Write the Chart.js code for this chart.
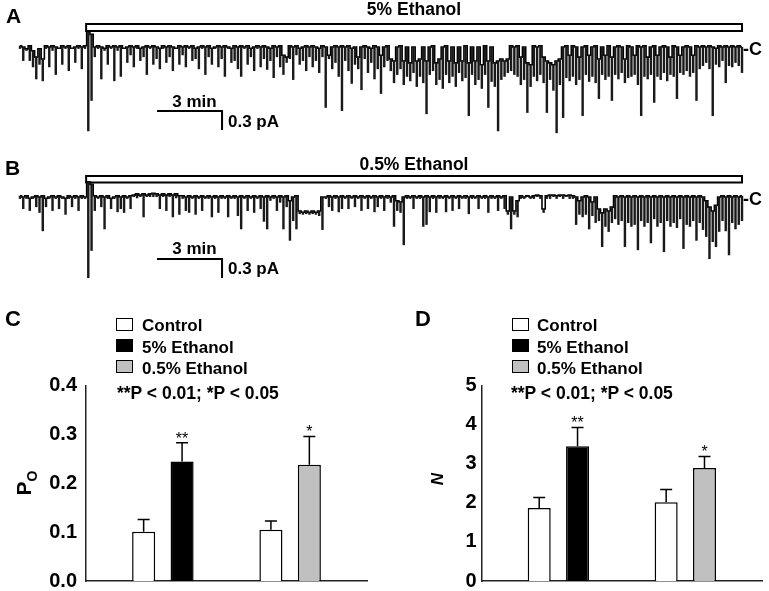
<!DOCTYPE html>
<html>
<head>
<meta charset="utf-8">
<script src="https://cdn.jsdelivr.net/npm/chart.js@4.4.1/dist/chart.umd.min.js"></script>
<style>
  body { margin: 0; background: #fff; }
  #fig { position: relative; width: 769px; height: 591px; overflow: hidden; font-family: Arial, "Liberation Sans", sans-serif; color: #000; }
  #fig canvas { position: absolute; }
  .lbl { position: absolute; white-space: nowrap; font-weight: bold; line-height: 1; }
  .box { position: absolute; width: 15px; height: 11px; border: 1.5px solid #000; }
  .rot { position: absolute; white-space: nowrap; font-weight: bold; line-height: 1; transform: translate(-50%, -50%) rotate(-90deg); }
</style>
</head>
<body>
<div id="fig">
  <canvas id="traceA" width="769" height="150" style="left:0;top:0"></canvas>
  <canvas id="traceB" width="769" height="145" style="left:0;top:150px"></canvas>
  <canvas id="poChart" width="385" height="311" style="left:0;top:300px"></canvas>
  <canvas id="nChart" width="384" height="311" style="left:385px;top:300px"></canvas>

  <div class="lbl" style="left:6px;top:5px;font-size:21px">A</div>
  <div class="lbl" style="left:86px;width:656px;text-align:center;top:1.3px;font-size:17.5px">5% Ethanol</div>
  <div class="lbl" style="left:743px;top:39.7px;font-size:18px">-C</div>
  <div class="lbl" style="left:144.5px;width:100px;text-align:center;top:92.8px;font-size:17px">3 min</div>
  <div class="lbl" style="left:228px;top:112.8px;font-size:17px">0.3 pA</div>

  <div class="lbl" style="left:5px;top:157px;font-size:21px">B</div>
  <div class="lbl" style="left:86px;width:656px;text-align:center;top:155.7px;font-size:17.5px">0.5% Ethanol</div>
  <div class="lbl" style="left:743px;top:189.7px;font-size:18px">-C</div>
  <div class="lbl" style="left:144.5px;width:100px;text-align:center;top:239.8px;font-size:17px">3 min</div>
  <div class="lbl" style="left:228px;top:259.8px;font-size:17px">0.3 pA</div>

  <div class="lbl" style="left:5px;top:307.6px;font-size:22px">C</div>
  <div class="box" style="left:116px;top:318px;background:#fff"></div>
  <div class="box" style="left:116px;top:339px;background:#000"></div>
  <div class="box" style="left:116px;top:360px;background:#c0c0c0"></div>
  <div class="lbl" style="left:142px;top:317.1px;font-size:17px">Control</div>
  <div class="lbl" style="left:142px;top:338.5px;font-size:17px">5% Ethanol</div>
  <div class="lbl" style="left:142px;top:359.5px;font-size:17px">0.5% Ethanol</div>
  <div class="lbl" style="left:117px;top:384.7px;font-size:17.5px">**P &lt; 0.01; *P &lt; 0.05</div>
  <div class="rot" style="left:26px;top:483px;font-size:21px">P<sub style="font-size:14px">O</sub></div>

  <div class="lbl" style="left:415px;top:307.6px;font-size:22px">D</div>
  <div class="box" style="left:512px;top:318px;background:#fff"></div>
  <div class="box" style="left:512px;top:339px;background:#000"></div>
  <div class="box" style="left:512px;top:360px;background:#c0c0c0"></div>
  <div class="lbl" style="left:537px;top:317.1px;font-size:17px">Control</div>
  <div class="lbl" style="left:537px;top:338.5px;font-size:17px">5% Ethanol</div>
  <div class="lbl" style="left:537px;top:359.5px;font-size:17px">0.5% Ethanol</div>
  <div class="lbl" style="left:511px;top:385px;font-size:17.5px">**P &lt; 0.01; *P &lt; 0.05</div>
  <div class="rot" style="left:437px;top:479px;font-size:17px;font-style:italic">N</div>
</div>

<script>
// single channel current (pA), min/max envelope per 0.15 min bin
const sampleMin = 0.15;
const recordEnd = 33.3;
const washIn = 3.05;
const scaleMin = 3;
const scalePA = 0.3;

const traceAMin = [
  -0.03, -0.22, -0.06, -0.22, -0.32, -0.51, -0.28, -0.54, -0.03, -0.32,
  -0.06, -0.44, -0.03, -0.28, -0.03, -0.38, -0.03, -0.25, -0.03, -0.35,
  -0.03, -1.33, -0.85, -0.16, -0.03, -0.51, -0.06, -0.28, -0.03, -0.54,
  -0.06, -0.47, -0.03, -0.25, -0.13, -0.32, -0.03, -0.22, -0.16, -0.44,
  -0.03, -0.28, -0.19, -0.35, -0.03, -0.25, -0.16, -0.38, -0.03, -0.28,
  -0.13, -0.32, -0.03, -0.22, -0.19, -0.35, -0.03, -0.44, -0.16, -0.28,
  -0.03, -0.32, -0.19, -0.47, -0.03, -0.25, -0.22, -0.35, -0.47, -0.03,
  -0.28, -0.16, -0.38, -0.03, -0.32, -0.19, -0.36, -0.22, -0.49, -0.16,
  -0.32, -0.44, -0.25, -0.19, -0.52, -0.13, -0.28, -0.22, -0.38, -0.16,
  -0.32, -0.22, -0.41, -0.16, -0.96, -0.19, -0.35, -0.25, -0.47, -1.01,
  -0.22, -0.38, -0.58, -0.28, -0.35, -0.68, -0.19, -0.41, -0.25, -0.51,
  -0.35, -0.74, -0.32, -0.22, -0.38, -0.57, -0.44, -0.35, -0.60, -0.47,
  -0.54, -0.41, -0.63, -0.47, -0.57, -1.06, -0.44, -0.38, -0.60, -0.52,
  -0.66, -0.44, -0.57, -0.47, -0.63, -0.41, -0.54, -0.49, -1.09, -0.44,
  -0.60, -0.52, -0.66, -0.44, -0.96, -0.55, -0.63, -1.33, -0.52, -0.47,
  -0.41, -0.38, -0.44, -0.47, -0.60, -0.52, -1.04, -0.63, -0.47, -0.54,
  -0.44, -0.57, -1.04, -0.52, -0.69, -1.36, -0.60, -1.12, -0.49, -0.54,
  -0.47, -0.60, -0.52, -1.09, -0.44, -0.55, -0.47, -0.57, -0.82, -0.44,
  -0.52, -0.47, -0.85, -0.44, -0.51, -0.41, -0.57, -0.49, -0.47, -0.44,
  -0.60, -1.09, -0.47, -0.51, -0.44, -0.88, -0.47, -0.52, -0.41, -0.54,
  -0.44, -0.47, -0.82, -0.41, -0.44, -0.38, -0.47, -0.41, -0.85, -0.35,
  -0.30, -0.25, -0.35, -1.09, -0.28, -0.32, -0.22, -0.57, -0.30, -0.32,
  -0.25, -0.30, -0.41
];

const traceAMax = [
  0.02, 0, -0.03, 0.02, -0.06, -0.16, -0.03, -0.19, 0.02, 0,
  0.02, 0, -0.02, 0.02, 0, 0.02, -0.02, 0, 0.02, 0,
  0.02, 0.24, 0.20, 0, 0.02, 0, -0.02, 0.02, 0, 0.02,
  0, 0.02, -0.02, 0, 0.02, 0, 0.02, -0.02, 0, 0.02,
  0, 0.02, 0, -0.02, 0.02, 0, 0.02, 0, -0.02, 0.02,
  0, 0.02, 0, 0.02, -0.02, 0, 0.02, 0, 0.02, -0.02,
  0, 0.02, 0, 0.02, 0, -0.02, 0.02, 0, 0.02, 0,
  0.02, -0.02, 0, 0.02, 0, 0.02, 0, -0.02, 0.02, 0,
  0.02, -0.13, -0.16, 0.02, 0, 0.02, -0.02, 0, 0.02, 0,
  0.02, 0, -0.02, 0.02, 0, -0.13, 0, 0.02, 0, 0.02,
  0, 0.02, -0.02, 0, -0.16, 0, 0.02, 0, -0.02, 0.02,
  0, -0.13, 0, 0.02, -0.19, -0.22, 0, 0.02, -0.22, 0,
  -0.25, 0, -0.22, -0.19, 0, -0.22, 0, 0.02, -0.25, -0.19,
  0, 0.02, -0.22, 0, -0.25, 0, -0.22, 0.02, -0.25, 0,
  -0.22, 0, -0.28, 0.02, -0.22, 0, -0.25, -0.22, -0.19, -0.22,
  -0.19, 0.02, 0, 0.02, -0.16, 0, -0.25, -0.28, 0.02, 0,
  0.02, -0.16, -0.22, -0.25, -0.28, -0.22, -0.19, 0, 0.02, -0.13,
  0.02, 0, -0.16, 0, 0.02, -0.13, 0, 0.02, -0.19, 0,
  -0.13, 0.02, -0.16, 0, 0.02, 0, -0.19, 0.02, 0, -0.13,
  0.02, 0, 0.02, -0.16, 0, 0.02, -0.13, 0, 0.02, 0,
  -0.16, 0.02, 0, -0.13, 0, 0.02, 0, -0.13, 0.02, 0,
  0.02, 0, 0.02, 0, -0.02, 0.02, 0, 0.02, 0, 0.02,
  0, 0.02, 0
];

const traceBMin = [
  -0.03, -0.19, -0.03, -0.22, -0.03, -0.16, -0.25, -0.54, -0.16, -0.03,
  -0.22, -0.03, -0.19, -0.03, -0.28, -0.03, -0.16, -0.03, -0.22, -0.03,
  -0.03, -1.28, -0.85, -0.22, -0.03, -0.16, -0.51, -0.03, -0.19, -0.03,
  -0.24, -0.19, -0.25, -0.03, -0.19, 0, -0.02, 0, -0.32, 0,
  0, 0, 0, -0.19, 0, -0.22, 0, -0.32, -0.02, -0.28,
  -0.03, -0.22, -0.25, -0.03, -0.28, -0.03, -0.22, -0.03, -0.03, -0.32,
  -0.03, -0.25, -0.03, -0.03, -0.32, -0.03, -0.03, -0.30, -0.51, -0.03,
  -0.22, -0.03, -0.25, -0.03, -0.19, -0.39, -0.51, -0.06, -0.03, -0.22,
  -0.09, -0.51, -0.16, -0.69, -0.38, -0.51, -0.27, -0.28, -0.27, -0.28,
  -0.27, -0.28, -0.30, -0.52, -0.03, -0.16, -0.22, -0.03, -0.24, -0.19,
  -0.03, -0.19, -0.03, -0.16, -0.03, -0.22, -0.03, -0.19, -0.03, -0.24,
  -0.16, -0.03, -0.22, -0.03, -0.09, -0.47, -0.22, -0.25, -0.76, -0.03,
  -0.03, -0.19, -0.03, -0.03, -0.47, -0.44, -0.24, -0.03, -0.25, -0.03,
  -0.03, -0.24, -0.03, -0.22, -0.03, -0.19, -0.03, -0.03, -0.27, -0.03,
  -0.03, -0.19, -0.03, -0.03, -0.25, -0.03, -0.03, -0.22, -0.03, -0.19,
  -0.28, -0.51, -0.28, -0.32, -0.03, -0.03, 0, -0.03, -0.03, 0,
  -0.03, -0.25, -0.03, -0.03, 0, -0.03, 0, -0.03, 0, -0.03,
  -0.03, -0.44, -0.28, -0.32, -0.28, -0.51, -0.30, -0.41, -0.38, -0.79,
  -0.47, -0.55, -0.41, -0.35, -0.44, -0.38, -0.79, -0.41, -0.47, -0.44,
  -0.84, -0.38, -0.47, -0.41, -0.73, -0.35, -0.47, -0.41, -0.87, -0.38,
  -0.47, -0.41, -0.49, -0.35, -0.82, -0.44, -0.47, -0.38, -0.69, -0.41,
  -0.52, -0.63, -0.98, -0.71, -0.79, -0.55, -0.38, -0.54, -0.92, -0.41,
  -0.51, -0.44, -0.38
];

const traceBMax = [
  0.02, 0, 0.02, -0.02, 0, 0.02, 0, 0.02, -0.02, 0,
  0.02, 0, 0.02, 0, -0.02, 0.02, 0, 0.02, 0, 0.02,
  0, 0.24, 0.20, 0.02, 0, 0.02, 0, 0.02, -0.02, 0,
  0.02, 0, 0.02, 0, 0.02, 0.03, 0.05, 0.03, 0.05, 0.03,
  0.05, 0.06, 0.05, 0.03, 0.05, 0.03, 0.05, 0.03, 0.05, 0.02,
  0.02, 0, 0.02, 0, 0.02, 0, 0.02, 0, 0.02, 0,
  0.02, 0, 0.02, 0, 0.02, 0, 0.02, 0, 0.02, 0,
  0.02, 0, 0.02, 0, 0.02, 0, 0.02, 0, 0.02, 0,
  0.02, 0, 0.02, -0.06, 0, 0.02, -0.22, -0.24, -0.22, -0.24,
  -0.22, -0.24, -0.22, 0, 0, 0.02, 0, 0.02, 0, 0.02,
  0, 0.02, 0, 0.02, 0, 0.02, 0, 0.02, 0, 0.02,
  0, 0.02, 0, 0.02, 0, 0.02, -0.06, -0.08, 0, 0.02,
  0, 0.02, 0, 0.02, 0, 0.02, 0, 0.02, 0, 0.02,
  0, 0.02, 0, 0.02, 0, 0.02, 0, 0.02, 0, 0.02,
  0, 0.02, 0, 0.02, 0, 0.02, 0, 0.02, 0, 0.02,
  -0.22, 0, -0.22, -0.06, 0.02, 0, 0.02, 0, 0.02, 0.03,
  0.02, -0.19, 0.02, 0.03, 0.03, 0.02, 0.03, 0.03, 0.02, 0.03,
  0.02, 0, -0.06, 0, 0.02, 0, -0.08, 0, -0.19, -0.25,
  -0.19, -0.22, -0.16, 0.02, 0, 0.02, 0, 0.02, 0, 0.02,
  0, 0.02, 0, 0.02, 0, 0.02, 0, 0.02, 0, 0.02,
  0, 0.02, 0, 0.02, 0, 0.02, 0, 0.02, 0, 0.02,
  0, -0.06, -0.16, -0.22, -0.13, 0, 0.02, 0, 0.02, 0,
  0.02, 0, 0.02
];

// bar charts: [5% group, 0.5% group]
const groups = ['5% Ethanol', '0.5% Ethanol'];
const poControl = [0.101, 0.105];
const poControlErr = [0.025, 0.018];
const poEthanol = [0.245, 0.238];
const poEthanolErr = [0.038, 0.058];
const nControl = [1.87, 2.015];
const nControlErr = [0.265, 0.325];
const nEthanol = [3.45, 2.89];
const nEthanolErr = [0.48, 0.30];
const sigMarks = ['**', '*'];
const ethanolColors = ['#000000', '#c0c0c0'];

Chart.defaults.font.family = 'Arial, "Liberation Sans", sans-serif';
Chart.defaults.color = '#000';

// drug bar + scale bars, drawn through the trace scales
const traceDecor = {
  id: 'traceDecor',
  beforeDatasetsDraw(chart, args, opts) {
    const { ctx } = chart;
    const x = chart.scales.x, y = chart.scales.y;
    const x0 = x.getPixelForValue(opts.washIn);
    const x1 = x.getPixelForValue(recordEnd);
    ctx.save();
    ctx.lineWidth = 2;
    ctx.strokeStyle = '#000';
    ctx.fillStyle = '#fff';
    ctx.fillRect(x0, opts.barTop, x1 - x0, opts.barH);
    ctx.strokeRect(x0, opts.barTop, x1 - x0, opts.barH);

    const len = x.getPixelForValue(scaleMin) - x.getPixelForValue(0);
    const h = y.getPixelForValue(0) - y.getPixelForValue(scalePA);
    ctx.beginPath();
    ctx.moveTo(opts.scaleX, opts.scaleY);
    ctx.lineTo(opts.scaleX + len, opts.scaleY);
    ctx.lineTo(opts.scaleX + len, opts.scaleY + h);
    ctx.stroke();
    ctx.restore();
  }
};

function traceConfig(lo, hi, canvasH, decor) {
  return {
    type: 'bar',
    data: {
      datasets: [
        {
          type: 'bar',
          data: lo.map((v, i) => ({ x: i * sampleMin, y: [hi[i], v] })),
          backgroundColor: '#1a1a1a',
          borderWidth: 0,
          barPercentage: 0.75,
          categoryPercentage: 1,
          clip: false
        },
        {
          type: 'line',
          data: hi.map((v, i) => ({ x: i * sampleMin, y: v })),
          borderColor: '#000',
          borderWidth: 1.6,
          stepped: 'middle',
          pointRadius: 0,
          clip: false
        }
      ]
    },
    options: {
      responsive: false,
      animation: false,
      events: [],
      layout: { padding: { left: 20, right: 27, top: 28, bottom: canvasH - 135.67 } },
      scales: {
        x: { type: 'linear', display: false, offset: false, min: 0, max: recordEnd },
        y: { display: false, min: -1.4, max: 0.3 }
      },
      plugins: { legend: { display: false }, tooltip: { enabled: false }, traceDecor: decor }
    },
    plugins: [traceDecor]
  };
}

new Chart(document.getElementById('traceA'),
  traceConfig(traceAMin, traceAMax, 150, { washIn: washIn, barTop: 24, barH: 7, scaleX: 157, scaleY: 111 }));
new Chart(document.getElementById('traceB'),
  traceConfig(traceBMin, traceBMax, 145, { washIn: washIn, barTop: 26, barH: 6.5, scaleX: 157, scaleY: 109 }));

// error bars (upper only) and significance marks
const errorBars = {
  id: 'errorBars',
  afterDatasetsDraw(chart) {
    const { ctx } = chart;
    const y = chart.scales.y;
    ctx.save();
    ctx.strokeStyle = '#000';
    ctx.lineWidth = 1.5;
    ctx.fillStyle = '#000';
    ctx.font = '16px Arial, "Liberation Sans", sans-serif';
    ctx.textAlign = 'center';
    ctx.textBaseline = 'alphabetic';
    chart.data.datasets.forEach((ds, di) => {
      chart.getDatasetMeta(di).data.forEach((bar, i) => {
        const top = y.getPixelForValue(ds.data[i].y + ds.errors[i]);
        ctx.beginPath();
        ctx.moveTo(bar.x, bar.y);
        ctx.lineTo(bar.x, top);
        ctx.moveTo(bar.x - 6, top);
        ctx.lineTo(bar.x + 6, top);
        ctx.stroke();
        if (ds.marks) ctx.fillText(ds.marks[i], bar.x, top + 1);
      });
    });
    ctx.restore();
  }
};

function barConfig(ctrl, ctrlErr, eth, ethErr, yMax, yStep, decimals, pad, tickPad) {
  return {
    type: 'bar',
    data: {
      labels: groups,
      datasets: [
        {
          label: 'Control',
          data: ctrl.map((v, i) => ({ x: i, y: v })),
          errors: ctrlErr,
          backgroundColor: '#fff',
          borderColor: '#000',
          borderWidth: 1.5
        },
        {
          label: 'Ethanol',
          data: eth.map((v, i) => ({ x: i, y: v })),
          errors: ethErr,
          marks: sigMarks,
          backgroundColor: ethanolColors,
          borderColor: '#000',
          borderWidth: 1.5
        }
      ]
    },
    options: {
      responsive: false,
      animation: false,
      events: [],
      categoryPercentage: 0.604,
      barPercentage: 0.6,
      layout: { padding: pad },
      scales: {
        x: {
          type: 'linear',
          offset: false,
          min: -0.604,
          max: 1.604,
          afterBuildTicks: s => { s.ticks = []; },
          afterFit: s => { s.height = 0; },
          ticks: { display: false },
          grid: { display: false, drawTicks: false },
          border: { color: '#222', width: 1.5 }
        },
        y: {
          min: 0,
          max: yMax,
          afterFit: s => { s.width = 60; },
          ticks: {
            stepSize: yStep,
            padding: tickPad,
            font: { size: 20, weight: 'bold' },
            callback: v => v.toFixed(decimals)
          },
          grid: { display: false, drawTicks: false },
          border: { color: '#222', width: 1.5 }
        }
      },
      plugins: { legend: { display: false }, tooltip: { enabled: false } }
    },
    plugins: [errorBars]
  };
}

new Chart(document.getElementById('poChart'),
  barConfig(poControl, poControlErr, poEthanol, poEthanolErr, 0.4, 0.1, 1,
    { left: 26, right: 18, top: 85.7, bottom: 30 }, 9));
new Chart(document.getElementById('nChart'),
  barConfig(nControl, nControlErr, nEthanol, nEthanolErr, 5, 1, 0,
    { left: 36.7, right: 7, top: 85.7, bottom: 30 }, 5));
</script>
</body>
</html>
